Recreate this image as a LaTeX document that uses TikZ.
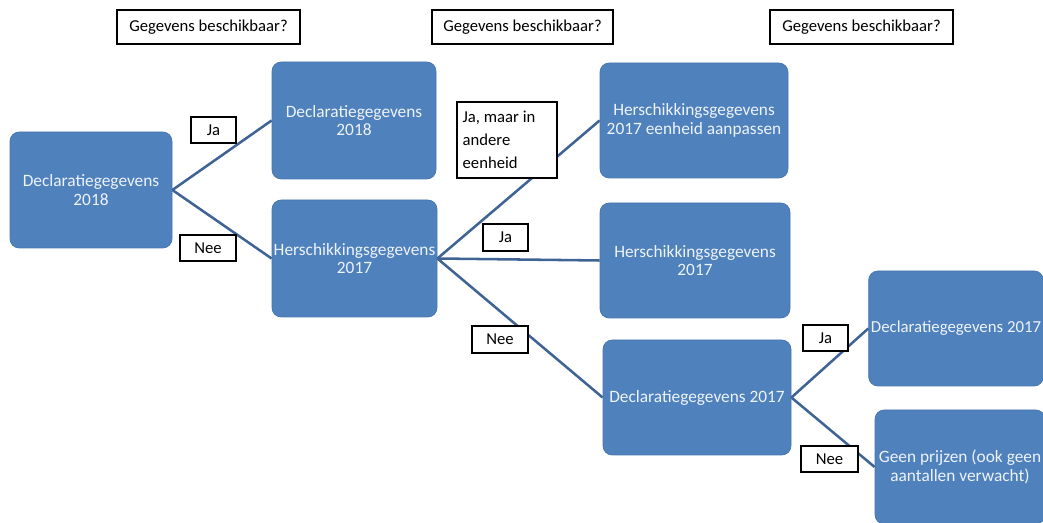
\documentclass[tikz,border=0pt]{standalone}
\usepackage{fontspec}
\setmainfont{Carlito}
\definecolor{boxblue}{HTML}{4F81BD}
\definecolor{boxedge}{HTML}{4A78B0}
\definecolor{linkblue}{HTML}{3F6395}
\definecolor{boxtext}{HTML}{EEF3FA}
\begin{document}
\begin{tikzpicture}[x=0.75pt,y=-0.75pt,
  bluebox/.style={rectangle,rounded corners=7pt,fill=boxblue,draw=boxedge,line width=0.6pt,
    text=boxtext,align=center,font=\fontsize{13}{13.8}\selectfont,inner sep=0pt},
  tagbox/.style={rectangle,fill=white,draw=black,line width=0.8pt,
    font=\fontsize{12.5}{14}\selectfont,inner sep=0pt},
  link/.style={draw=linkblue,line width=1.9pt}]
\useasboundingbox (0,0) rectangle (1043,523);
% question headers
\node[tagbox,minimum width=137.25pt,minimum height=25.5pt] (q1) at (208.5,27) {Gegevens beschikbaar?};
\node[tagbox,minimum width=135.75pt,minimum height=25.5pt] (q2) at (522.5,27) {Gegevens beschikbaar?};
\node[tagbox,minimum width=137.25pt,minimum height=25.5pt] (q3) at (861.5,27) {Gegevens beschikbaar?};
% blue boxes
\node[bluebox,minimum width=121.5pt,minimum height=87pt] (A) at (91,190) {Declaratiegegevens\\2018};
\node[bluebox,minimum width=123pt,minimum height=87.75pt] (B) at (354,120.5) {Declaratiegegevens\\2018};
\node[bluebox,minimum width=123.75pt,minimum height=87.75pt] (C) at (354.5,258.5) {Herschikkingsgegevens\\2017};
\node[bluebox,minimum width=141pt,minimum height=86.25pt] (D) at (694,120.5) {Herschikkingsgegevens\\2017 eenheid aanpassen};
\node[bluebox,minimum width=142.5pt,minimum height=86.25pt] (E) at (695,260.5) {Herschikkingsgegevens\\2017};
\node[bluebox,minimum width=141pt,minimum height=86.25pt] (F) at (697,397.5) {Declaratiegegevens 2017};
\node[bluebox,minimum width=131pt,minimum height=86.25pt,font=\fontsize{12.6}{13.8}\selectfont] (G) at (956,328.5) {Declaratiegegevens 2017};
\node[bluebox,minimum width=127.5pt,minimum height=85.5pt] (H) at (960,467) {Geen prijzen (ook geen\\aantallen verwacht)};
% connectors
\draw[link] (A.east) -- (B.west);
\draw[link] (A.east) -- (C.west);
\draw[link] (C.east) -- (D.west);
\draw[link] (C.east) -- (E.west);
\draw[link] (C.east) -- (F.west);
\draw[link] (F.east) -- (G.west);
\draw[link] (F.east) -- (H.west);
% answer labels
\node[tagbox,minimum width=33.75pt,minimum height=19.5pt] (ja1) at (213.5,130) {Ja};
\node[tagbox,minimum width=42pt,minimum height=19.5pt] (nee1) at (208,248) {Nee};
\node[tagbox,minimum width=75pt,minimum height=57pt,align=left,
  font=\fontsize{12.5}{17.25}\selectfont] (jamaar) at (507,140) {Ja, maar in\hspace*{12pt}\\andere\\eenheid};
\node[tagbox,minimum width=33.75pt,minimum height=20.25pt] (ja2) at (505.5,237.5) {Ja};
\node[tagbox,minimum width=42pt,minimum height=20.25pt] (nee2) at (500,339.5) {Nee};
\node[tagbox,minimum width=33.75pt,minimum height=19.5pt] (ja3) at (825.5,338) {Ja};
\node[tagbox,minimum width=42.75pt,minimum height=19.5pt] (nee3) at (829.5,459) {Nee};
\end{tikzpicture}
\end{document}
